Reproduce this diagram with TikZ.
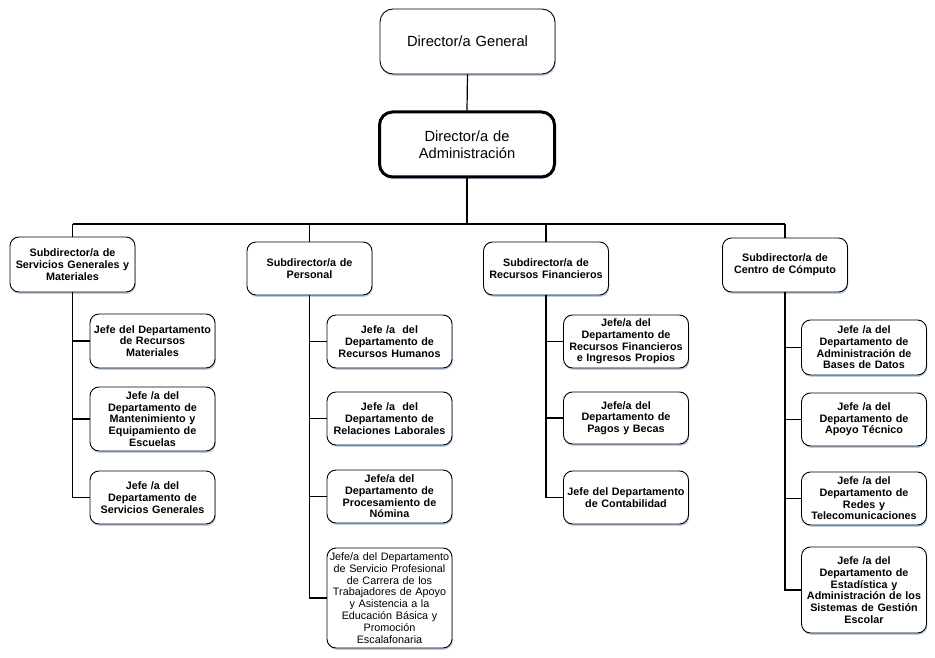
\documentclass[tikz,border=0pt]{standalone}
\usepackage{fontspec}
\setmainfont{Liberation Sans}
\usetikzlibrary{shadows}
\definecolor{shadowc}{RGB}{185,205,230}
\begin{document}
\begin{tikzpicture}[x=1pt,y=-1pt,
  base/.style={draw=black, line width=0.9pt, rounded corners=9pt, fill=white, align=center, inner sep=1pt,
    drop shadow={shadow xshift=0.8pt, shadow yshift=-1.8pt, fill=shadowc, opacity=1}},
  sbox/.style={base, minimum width=125pt, text width=121pt, font=\bfseries\fontsize{10.8}{11.7}\selectfont},
  rbox/.style={base, minimum width=125pt, text width=121pt, font=\fontsize{10.8}{11.8}\selectfont},
  big/.style={base, rounded corners=13pt, minimum width=175pt, text width=170pt, minimum height=65pt, font=\fontsize{14.7}{16.7}\selectfont},
  conn/.style={line width=1.2pt}]
\useasboundingbox (0,0) rectangle (935,658);
% top
\node[big] (dg) at (467.5,41.5) {Director/a General};
\node[big, line width=3pt] (da) at (467,144.5) {Director/a de\\Administración};
% subdirectors
\node[sbox, minimum height=55pt] (s1) at (72.5,264.5) {Subdirector/a de\\Servicios Generales y\\Materiales};
\node[sbox, minimum height=53pt] (s2) at (309.5,268.5) {Subdirector/a de\\Personal};
\node[sbox, minimum height=53pt] (s3) at (546,268.5) {Subdirector/a de\\Recursos Financieros};
\node[sbox, minimum height=54pt] (s4) at (785,265) {Subdirector/a de\\Centro de Cómputo};
% column 1
\node[sbox, minimum height=54pt] (c11) at (152.5,341) {Jefe del Departamento\\de Recursos\\Materiales};
\node[sbox, minimum height=64pt] (c12) at (152.5,419) {Jefe /a del\\Departamento de\\Mantenimiento y\\Equipamiento de\\Escuelas};
\node[sbox, minimum height=53pt] (c13) at (152.5,497.5) {Jefe /a del\\Departamento de\\Servicios Generales};
% column 2
\node[sbox, minimum height=53pt] (c21) at (389.5,341.5) {Jefe /a~ del\\Departamento de\\Recursos Humanos};
\node[sbox, minimum height=53pt] (c22) at (389.5,418.5) {Jefe /a~ del\\Departamento de\\Relaciones Laborales};
\node[sbox, minimum height=53pt] (c23) at (389.5,496.5) {Jefe/a del\\Departamento de\\Procesamiento de\\Nómina};
\node[rbox, minimum height=100pt] (c24) at (389.5,598) {Jefe/a del Departamento\\de Servicio Profesional\\de Carrera de los\\Trabajadores de Apoyo\\y Asistencia a la\\Educación Básica y\\Promoción\\Escalafonaria};
% column 3
\node[sbox, minimum height=53pt] (c31) at (626,341.5) {Jefe/a del\\Departamento de\\Recursos Financieros\\e Ingresos Propios};
\node[sbox, minimum height=52pt] (c32) at (626,418) {Jefe/a del\\Departamento de\\Pagos y Becas};
\node[sbox, minimum height=53pt] (c33) at (626,497.5) {Jefe del Departamento\\de Contabilidad};
% column 4
\node[sbox, minimum height=55pt] (c41) at (864,347.5) {Jefe /a del\\Departamento de\\Administración de\\Bases de Datos};
\node[sbox, minimum height=53pt] (c42) at (864,419.5) {Jefe /a del\\Departamento de\\Apoyo Técnico};
\node[sbox, minimum height=53pt] (c43) at (864,498.5) {Jefe /a del\\Departamento de\\Redes y\\Telecomunicaciones};
\node[sbox, minimum height=86pt] (c44) at (864,590) {Jefe /a del\\Departamento de\\Estadística y\\Administración de los\\Sistemas de Gestión\\Escolar};
% connectors
\coordinate (jl) at (72.5,224);
\coordinate (jr) at (785,224);
\draw[conn] (dg.south) -- (da.north);
\draw[conn] (da.south) -- (da.south |- jl);
\draw[conn] (jl) -- (jr);
\draw[conn] (s1.north) -- (jl);
\draw[conn] (s2.north) -- (s2.north |- jl);
\draw[conn] (s3.north) -- (s3.north |- jl);
\draw[conn] (s4.north) -- (jr);
% column spines
\draw[conn] (s1.south) -- (s1.south |- c13.west) -- (c13.west);
\draw[conn] (s1.south |- c11.west) -- (c11.west);
\draw[conn] (s1.south |- c12.west) -- (c12.west);
\draw[conn] (s2.south) -- (s2.south |- c24.west) -- (c24.west);
\draw[conn] (s2.south |- c21.west) -- (c21.west);
\draw[conn] (s2.south |- c22.west) -- (c22.west);
\draw[conn] (s2.south |- c23.west) -- (c23.west);
\draw[conn] (s3.south) -- (s3.south |- c33.west) -- (c33.west);
\draw[conn] (s3.south |- c31.west) -- (c31.west);
\draw[conn] (s3.south |- c32.west) -- (c32.west);
\draw[conn] (s4.south) -- (s4.south |- c44.west) -- (c44.west);
\draw[conn] (s4.south |- c41.west) -- (c41.west);
\draw[conn] (s4.south |- c42.west) -- (c42.west);
\draw[conn] (s4.south |- c43.west) -- (c43.west);
\end{tikzpicture}
\end{document}
